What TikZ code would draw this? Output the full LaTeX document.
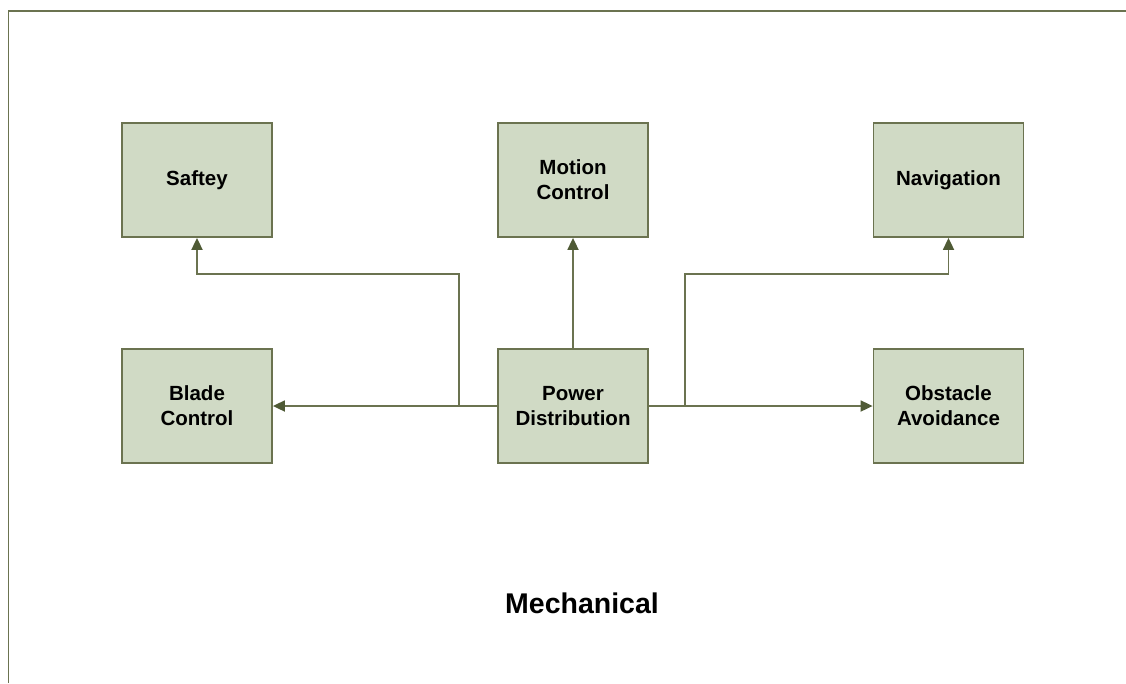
\documentclass[tikz,border=0pt]{standalone}
\usepackage{fontspec}
\setmainfont{Liberation Sans}
\usetikzlibrary{arrows.meta}
\definecolor{boxfill}{HTML}{D0DAC5}
\definecolor{boxline}{HTML}{6B7350}
\definecolor{tipcol}{HTML}{4F5A35}
\begin{document}
\begin{tikzpicture}[x=1pt,y=-1pt,
  blk/.style={draw=boxline,fill=boxfill,line width=1.8pt,minimum width=150pt,minimum height=114pt,
    inner sep=0pt,align=center,font=\fontsize{20.5}{25}\selectfont\bfseries},
  conn/.style={draw=boxline,line width=1.8pt},
  arr/.style={conn,-{Triangle[length=12pt,width=11pt,color=tipcol]}}]
\useasboundingbox (0,0) rectangle (1126,683);
\draw[boxline,line width=1.8pt] (8.5,683) -- (8.5,11) -- (1126,11);
\node[blk] (saf) at (197,180) {Saftey};
\node[blk] (mot) at (573,180) {Motion\\Control};
\node[blk] (nav) at (948.5,180) {Navigation};
\node[blk] (bla) at (197,406) {Blade\\Control};
\node[blk] (pow) at (573,406) {Power\\Distribution};
\node[blk] (obs) at (948.5,406) {Obstacle\\Avoidance};
\coordinate (jl) at (459,406);
\coordinate (jr) at (685,406);
\draw[arr] (pow.west) -- (bla.east);
\draw[arr] (pow.east) -- (obs.west);
\draw[arr] (pow.north) -- (mot.south);
\draw[arr] (jl) -- (459,274) -| (saf.south);
\draw[arr] (jr) -- (685,274) -| (nav.south);
\node[font=\fontsize{28.5}{30}\selectfont\bfseries] (mech) at (582,603) {Mechanical};
\end{tikzpicture}
\end{document}
